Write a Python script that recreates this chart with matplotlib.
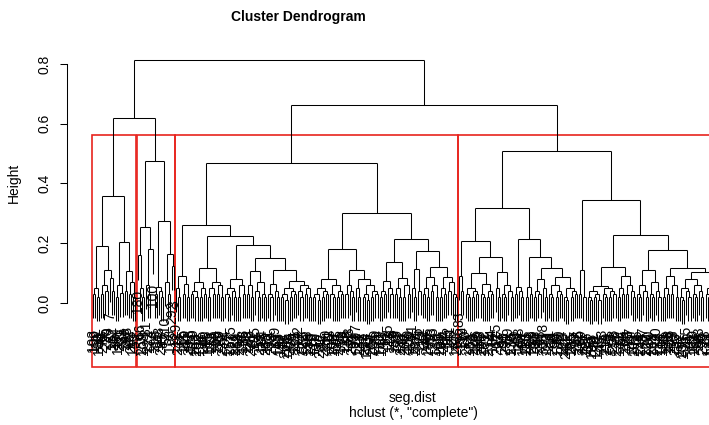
import matplotlib
matplotlib.use('Agg')
import matplotlib.pyplot as plt
from matplotlib.collections import LineCollection
from matplotlib.patches import Rectangle

plt.rcParams['font.family'] = ['Liberation Sans', 'DejaVu Sans']

# Tree.
# A tuple is a merge: (height, left, right).
# A list is a small tuft of low merges (heights), split in halves; [] is one leaf.
clusterA = (0.358,
            (0.19, [0.05, 0.03, 0.02], (0.11, [0.06, 0.03, 0.04], [0.085, 0.04])),
            (0.204, [0.06, 0.02, 0.035], (0.108, [0.04], [0.07, 0.03, 0.02])))

clusterB = (0.475,
            (0.254, (0.16, [], [0.05, 0.02]), (0.18, [0.06, 0.03], [])),
            (0.275, [0.053, 0.03, 0.04, 0.02], (0.164, [0.07, 0.03], (0.125, [], []))))

groupL3 = (0.261,
           (0.091, [0.05, 0.02], [0.065, 0.03, 0.02]),
           (0.225,
            (0.118, [0.07, 0.04, 0.03, 0.02, 0.05, 0.02, 0.03],
             (0.071, [0.05, 0.02, 0.03], [0.06, 0.03, 0.02])),
            (0.193,
             (0.081, [0.05, 0.03, 0.02, 0.04, 0.02], [0.06, 0.02, 0.03]),
             (0.150,
              (0.107, [0.06, 0.03, 0.02], [0.07, 0.04, 0.02, 0.03, 0.02]),
              (0.109, [0.065, 0.03, 0.02, 0.04, 0.02],
               (0.074, [0.05, 0.03, 0.02, 0.01, 0.04, 0.02, 0.03],
                [0.06, 0.04, 0.02, 0.05, 0.03, 0.02]))))))

groupR3 = (0.302,
           (0.180,
            (0.079, [0.05, 0.03, 0.02, 0.01, 0.04, 0.02, 0.03], [0.06, 0.03, 0.02, 0.04, 0.02, 0.03]),
            (0.109, [0.06, 0.03, 0.04, 0.02],
             (0.08, [0.05, 0.02], [0.06, 0.03, 0.02, 0.01, 0.04, 0.02, 0.03]))),
           (0.213,
            (0.138, (0.075, [0.04, 0.02, 0.03], [0.05, 0.03]),
             (0.084, [0.05, 0.03, 0.02], [0.06, 0.02, 0.03])),
            (0.175, (0.113, [0.05, 0.02], [0.04]),
             (0.119, (0.086, [0.05, 0.03, 0.02], [0.06, 0.04, 0.02]),
              (0.088, [0.05, 0.02, 0.03], [0.07, 0.04, 0.03, 0.02])))))

clusterC = (0.469, groupL3, groupR3)

groupL4 = (0.319,
           (0.208, (0.09, [], [0.04]),
            (0.153,
             (0.099, [0.05, 0.03, 0.02, 0.04, 0.02, 0.03], [0.064, 0.03, 0.02, 0.04, 0.02, 0.03]),
             (0.105, [0.05, 0.02], [0.06, 0.03, 0.02, 0.04, 0.02]))),
           (0.214, [0.055, 0.03, 0.04, 0.02],
            (0.153, [0.055, 0.02, 0.03],
             (0.116, (0.08, [0.04, 0.02, 0.03], [0.05, 0.02]),
              (0.088, [0.06, 0.03, 0.02, 0.04, 0.02, 0.03], [0.05, 0.02, 0.01, 0.04, 0.02, 0.03])))))

groupR4 = (0.344,
           (0.11, [0.03], [0.02]),
           (0.228,
            (0.12, (0.057, [0.04, 0.02, 0.01, 0.03, 0.02, 0.01], [0.05, 0.03, 0.02, 0.04, 0.02, 0.03]),
             (0.09, [0.05, 0.02, 0.03], [0.06, 0.03, 0.04, 0.02])),
            (0.176,
             (0.11, [0.06, 0.03, 0.02, 0.04, 0.02], [0.07, 0.03, 0.02, 0.04, 0.02]),
             (0.118, (0.09, [0.05, 0.02, 0.03], [0.06, 0.03, 0.02]),
              (0.105, (0.08, [0.05, 0.02, 0.01, 0.04, 0.02], [0.06, 0.03, 0.02, 0.04, 0.02]),
               (0.085, [0.05, 0.03, 0.02, 0.04, 0.02, 0.03], [0.06, 0.02, 0.01, 0.05, 0.02, 0.03]))))))

clusterD = (0.508, groupL4, groupR4)

clusters = [clusterA, clusterB, clusterC, clusterD]
tree = (0.813, (0.619, clusterA, clusterB), (0.663, clusterC, clusterD))

# Leaf labels (observation numbers), mostly unreadable in the picture.
leafLabels = [
    193, 199, 12, 188, 41, 276, 95, 230, 7, 152, 264, 38, 117, 201, 89, 246, 163, 22, 283, 140,
    53, 180, 66, 259, 108, 31, 222, 174, 100, 296, 15, 143, 237, 85, 210, 57, 168, 292, 3, 129,
    248, 71, 155, 219, 44, 287, 126, 9, 198, 262, 137, 76, 240, 18, 185, 111, 271, 60, 206, 149,
    27, 232, 94, 177, 253, 5, 121, 289, 68, 214, 158, 36, 275, 103, 226, 81, 195, 14, 257, 134,
    47, 243, 171, 92, 218, 299, 63, 115, 187, 24, 268, 146, 208, 79, 161, 235, 2, 284, 122, 55,
    203, 138, 270, 19, 176, 97, 251, 42, 227, 160, 11, 293, 109, 190, 74, 245, 132, 29, 216, 165,
    88, 261, 50, 197, 124, 281, 16, 234, 153, 70, 212, 104, 279, 39, 183, 142, 297, 62, 225, 118,
    8, 255, 179, 93, 238, 46, 266, 130, 200, 21, 157, 288, 75, 221, 112, 34, 249, 186, 58, 273,
    136, 13, 209, 101, 294, 67, 172, 241, 25, 147, 260, 83, 192, 119, 30, 277, 164, 52, 229, 106,
    286, 43, 205, 151, 77, 252, 4, 182, 125, 267, 35, 217, 98, 291, 59, 170, 236, 10, 141, 258,
    69, 194, 113, 280, 23, 223, 156, 87, 247, 48, 178, 300, 133, 211, 6, 263, 99, 189, 40, 274,
    120, 242, 61, 166, 285, 17, 202, 145, 80, 231, 127, 256, 33, 196, 91, 272, 150, 45, 213, 114,
    239, 1, 175, 298, 78, 224, 131, 54, 265, 184, 26, 207, 102, 282, 65, 154, 244, 37, 167, 220,
    90, 269, 144, 20, 233, 116, 191, 56, 278, 128, 204, 73, 250, 32, 162, 290, 105, 215, 49, 181,
    139, 254, 64, 228, 96, 295, 28, 173, 123, 263, 84, 159, 72, 248, 110, 199, 51, 135, 82, 107,
]


# Turn a tuft list into nested merges.
def expand(node):
    if isinstance(node, list):
        if len(node) == 0:
            return None
        k = (len(node) - 1) // 2
        return (node[0], expand(node[1:1 + k]), expand(node[1 + k:]))
    if node is None:
        return None
    return (node[0], expand(node[1]), expand(node[2]))


def countLeaves(node):
    if node is None:
        return 1
    return countLeaves(node[1]) + countLeaves(node[2])


def allHeights(node, out):
    if node is not None:
        out.append(node[0])
        allHeights(node[1], out)
        allHeights(node[2], out)
    return out


tree = expand(tree)
clusters = [expand(c) for c in clusters]
nLeaves = countLeaves(tree)
maxH = tree[0]
hang = 0.1 * maxH

segments = []
leafPos = []   # (x, bottom y)
counter = [0]


# Lay out the tree like R's plot.hclust.
def layout(node, parentH):
    if node is None:
        counter[0] += 1
        x = counter[0]
        bottom = parentH - hang
        leafPos.append((x, bottom))
        return x, bottom
    h = node[0]
    xl, yl = layout(node[1], h)
    xr, yr = layout(node[2], h)
    segments.append([(xl, yl), (xl, h)])
    segments.append([(xl, h), (xr, h)])
    segments.append([(xr, h), (xr, yr)])
    return (xl + xr) / 2, h


layout(tree, maxH)

# Draw chart.
fig = plt.figure(figsize=(7.09, 4.25), dpi=100)
ax = fig.add_axes([67 / 709, 58 / 425, 692 / 709, 318.6 / 425])
ax.add_collection(LineCollection(segments, colors='black', linewidths=0.75))

xpad = 0.04 * (nLeaves - 1)
ax.set_xlim(1 - xpad, nLeaves + xpad)
ax.set_ylim(-0.214, 0.852)

for i, (x, bottom) in enumerate(leafPos):
    ax.text(x, bottom - 0.036, str(leafLabels[i % len(leafLabels)]), rotation=90,
            ha='center', va='top', fontsize=10, clip_on=False)

# Boxes for 4 clusters (rect.hclust).
heights = sorted(allHeights(tree, []), reverse=True)
boxTop = (heights[2] + heights[3]) / 2
start = 0
for c in clusters:
    size = countLeaves(c)
    ax.add_patch(Rectangle((start + 0.66, -0.214), size - 0.33, boxTop + 0.214,
                           fill=False, edgecolor='#E8241E', linewidth=1.2, clip_on=False))
    start += size

for side in ['top', 'right', 'bottom']:
    ax.spines[side].set_visible(False)
ax.spines['left'].set_bounds(0, 0.8)
ax.spines['left'].set_linewidth(0.75)
ax.set_xticks([])
ax.set_yticks([0.0, 0.2, 0.4, 0.6, 0.8])
ax.set_yticklabels(['0.0', '0.2', '0.4', '0.6', '0.8'], rotation=90, va='center', fontsize=10)
ax.tick_params(axis='y', length=5, width=0.75, pad=6)

fig.text(298 / 709, 1 - 17 / 425, 'Cluster Dendrogram', ha='center', va='center',
         fontsize=10, fontweight='bold')
fig.text(14 / 709, 1 - 183 / 425, 'Height', rotation=90, ha='center', va='center', fontsize=10)
fig.text(413 / 709, 1 - 398 / 425, 'seg.dist', ha='center', va='center', fontsize=10)
fig.text(413 / 709, 1 - 413 / 425, 'hclust (*, "complete")', ha='center', va='center', fontsize=10)

fig.savefig('out.png', dpi=100)
